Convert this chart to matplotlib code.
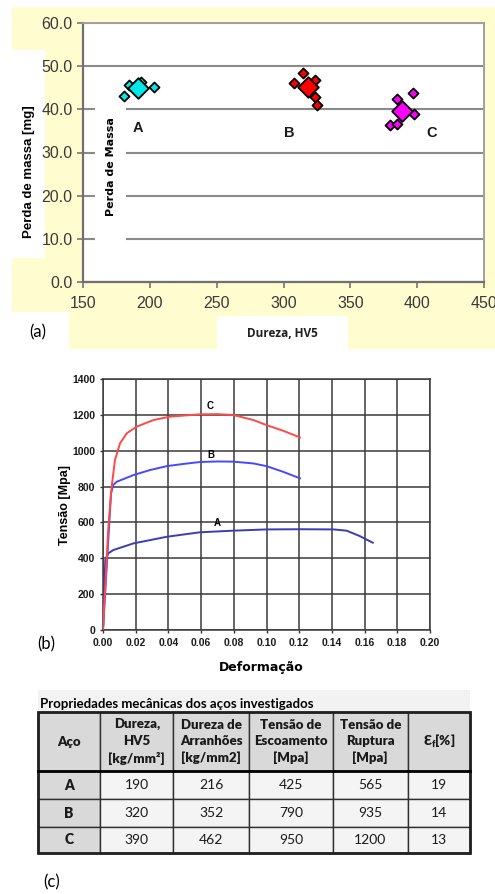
import numpy as np
import matplotlib.pyplot as plt
from matplotlib.patches import Rectangle

W, H = 495, 894

# (a) perda de massa x dureza
acos = ['A', 'B', 'C']
cores_a = ['#00e8e8', '#ff0000', '#ff00ff']
dureza_pts = [[180.5, 184.7, 193.5, 203.4],
              [308.1, 314.8, 323.8, 323.3, 325.2],
              [384.6, 396.6, 397.9, 379.7, 385.2]]
perda_pts = [[43.1, 45.7, 46.4, 45.2],
             [46.2, 48.5, 46.9, 42.8, 40.9],
             [42.5, 43.7, 39.0, 36.4, 36.5]]
dureza_media = [191.4, 318.6, 388.9]
perda_media = [44.9, 45.1, 39.5]
rotulo_x = [191, 304, 411]
rotulo_y = [35.7, 34.5, 34.5]

# (b) curvas tensao x deformacao
def_A = [0, 0.0014, 0.0022, 0.0033, 0.0063, 0.0186, 0.039, 0.0593, 0.0797,
         0.1, 0.1205, 0.141, 0.149, 0.157, 0.165]
ten_A = [0, 390, 409, 428, 446, 483, 520, 545, 554, 561, 562, 561, 554, 524, 487]
def_B = [0, 0.0049, 0.0063, 0.0084, 0.0186, 0.0287, 0.039, 0.049, 0.0593, 0.07,
         0.0797, 0.092, 0.1, 0.11, 0.1205]
ten_B = [0, 762, 809, 827, 864, 892, 914, 926, 937, 940, 939, 929, 914, 883, 846]
def_C = [0, 0.0033, 0.0053, 0.0073, 0.0104, 0.0145, 0.0206, 0.0308, 0.041,
         0.0593, 0.07, 0.0797, 0.092, 0.1, 0.11, 0.1205]
ten_C = [0, 576, 799, 948, 1041, 1097, 1134, 1171, 1190, 1203, 1204, 1199,
         1171, 1143, 1112, 1074]
cores_b = ['#3c3cb4', '#4848ff', '#ff4848']
curva_rot_x = [0.070, 0.0659, 0.0654]
curva_rot_y = [598, 976, 1248]

# (c) tabela
colunas = ['Aço', 'Dureza,\nHV5\n[kg/mm²]', 'Dureza de\nArranhões\n[kg/mm2]',
           'Tensão de\nEscoamento\n[Mpa]', 'Tensão de\nRuptura\n[Mpa]',
           'Ɛ$_\\mathregular{f}$[%]']
dureza_hv5 = [190, 320, 390]
dureza_arr = [216, 352, 462]
tensao_esc = [425, 790, 950]
tensao_rup = [565, 935, 1200]
along = [19, 14, 13]


def box(l, t, r, b):
    return [l / W, 1 - b / H, (r - l) / W, (b - t) / H]


def fig_rect(fig, l, t, r, b, color, z):
    fig.patches.append(Rectangle((l / W, 1 - b / H), (r - l) / W, (b - t) / H,
                                 transform=fig.transFigure, color=color,
                                 zorder=z, lw=0))


fig = plt.figure(figsize=(W / 100, H / 100), dpi=100)
arial = 'Liberation Sans'
calibri = ['Lato', 'DejaVu Sans']

# ---------- (a) ----------
fig_rect(fig, 12, 7, 495, 349, '#fffdd0', -3)
fig_rect(fig, 12, 50, 45, 258, 'white', -2)
fig_rect(fig, 12, 312, 69, 349, 'white', -2)
fig_rect(fig, 217, 316, 348, 349, 'white', -2)

ax1 = fig.add_axes(box(83, 23, 484, 282))
ax1.set_facecolor('white')
ax1.set_xlim(150, 450)
ax1.set_ylim(0, 60)
ax1.set_xticks(np.arange(150, 451, 50))
ax1.set_yticks(np.arange(0, 61, 10))
ax1.set_yticklabels([f'{v:.1f}' for v in np.arange(0, 61, 10)])
ax1.tick_params(colors='#808080', labelcolor='#3a3a3a', labelsize=11.5,
                length=4, width=1.3)
ax1.tick_params(axis='x', pad=6)
for lab in ax1.get_xticklabels() + ax1.get_yticklabels():
    lab.set_family(arial)
ax1.grid(axis='y', color='#8a8a8a', lw=1.5)
ax1.set_axisbelow(True)
for s in ['left', 'bottom']:
    ax1.spines[s].set_color('#707070')
    ax1.spines[s].set_linewidth(1.6)
for s in ['top', 'right']:
    ax1.spines[s].set_color('#a0a0a0')
    ax1.spines[s].set_linewidth(1.4)
ax1.add_patch(Rectangle((0.030, 0.124), 0.077, 0.59, transform=ax1.transAxes,
                        color='white', zorder=1, lw=0))
ax1.text(0.069, 0.445, 'Perda de Massa', transform=ax1.transAxes, rotation=90,
         ha='center', va='center', fontsize=8, fontweight='bold', zorder=2)
for i in range(3):
    ax1.scatter(dureza_pts[i], perda_pts[i], marker='D', s=26, c=cores_a[i],
                edgecolors='black', linewidths=1.3, zorder=3)
    ax1.scatter(dureza_media[i], perda_media[i], marker='D', s=110,
                c=cores_a[i], edgecolors='black', linewidths=1.3, zorder=4)
    ax1.text(rotulo_x[i], rotulo_y[i], acos[i], ha='center', va='center',
             fontsize=10.5, fontweight='bold', family=arial, color='#1a1a1a')

fig.text(29 / W, 1 - 172 / H, 'Perda de massa [mg]', rotation=90, ha='center',
         va='center', fontsize=9.5, fontweight='bold', family=arial)
fig.text(282 / W, 1 - 333 / H, 'Dureza, HV5', ha='center', va='center',
         fontsize=8.5, fontweight='bold', family='Open Sans', color='#202020')
fig.text(38 / W, 1 - 332 / H, '(a)', ha='center', va='center', fontsize=12,
         family=calibri)

# ---------- (b) ----------
ax2 = fig.add_axes(box(103, 379, 430, 630))
ax2.set_xlim(0, 0.20)
ax2.set_ylim(0, 1400)
ax2.set_xticks(np.arange(0, 0.201, 0.02))
ax2.set_xticklabels([f'{v:.2f}' for v in np.arange(0, 0.201, 0.02)])
ax2.set_yticks(np.arange(0, 1401, 200))
ax2.tick_params(colors='#333333', labelcolor='#1a1a1a', labelsize=7.5,
                length=2, width=1)
for lab in ax2.get_xticklabels() + ax2.get_yticklabels():
    lab.set_family(arial)
    lab.set_fontweight('bold')
ax2.grid(color='#3a3a3a', lw=1.1)
ax2.set_axisbelow(True)
for s in ax2.spines.values():
    s.set_color('#3a3a3a')
    s.set_linewidth(1.1)
curvas = [(def_A, ten_A), (def_B, ten_B), (def_C, ten_C)]
for i, (x, y) in enumerate(curvas):
    ax2.plot(x, y, color=cores_b[i], lw=1.4, zorder=3)
    ax2.text(curva_rot_x[i], curva_rot_y[i], acos[i], ha='center',
             va='center', fontsize=7, fontweight='bold', family=arial)
fig.text(65 / W, 1 - 505 / H, 'Tensão [Mpa]', rotation=90, ha='center',
         va='center', fontsize=9, fontweight='bold', family=arial)
fig.text(261 / W, 1 - 667 / H, 'Deformação', ha='center', va='center',
         fontsize=9, fontweight='bold', family='DejaVu Sans')
fig.text(46 / W, 1 - 644 / H, '(b)', ha='center', va='center', fontsize=12,
         family=calibri)

# ---------- (c) ----------
fig_rect(fig, 38, 690, 470, 712, '#f2f2f2', -2)
fig.text(40 / W, 1 - 704 / H, 'Propriedades mecânicas dos aços investigados',
         ha='left', va='center', fontsize=9.5, fontweight='bold',
         family=calibri)

ax3 = fig.add_axes(box(38, 712, 470, 853))
ax3.axis('off')
linhas = [[acos[i], dureza_hv5[i], dureza_arr[i], tensao_esc[i],
           tensao_rup[i], along[i]] for i in range(3)]
larg = [62, 73, 76, 83, 75, 62]
tab = ax3.table(cellText=linhas, colLabels=colunas, colWidths=larg,
                cellLoc='center', bbox=[0, 0, 1, 1])
tab.auto_set_font_size(False)
alturas = [59, 28, 28, 26]
for (r, c), cell in tab.get_celld().items():
    cell.set_height(alturas[r])
    cell.set_edgecolor('#303030')
    cell.set_linewidth(1)
    if r == 0 or c == 0:
        cell.set_facecolor('#d9d9d9')
    else:
        cell.set_facecolor('#f4f4f4')
    bold = 'heavy' if (r == 0 or c == 0) else 'normal'
    cell.set_text_props(family=calibri, fontsize=9.5 if r == 0 else 10,
                        fontweight=bold, linespacing=1.45, color='#1a1a1a')
ax3.add_patch(Rectangle((0, 0), 1, 1, transform=ax3.transAxes, fill=False,
                        lw=2, ec='#202020', clip_on=False, zorder=5))
ax3.plot([0, 1], [1 - 59 / 141] * 2, transform=ax3.transAxes, color='black',
         lw=2, clip_on=False, zorder=5)
fig.text(52 / W, 1 - 882 / H, '(c)', ha='center', va='center', fontsize=12,
         family=calibri)

fig.savefig('out.png', dpi=100)
